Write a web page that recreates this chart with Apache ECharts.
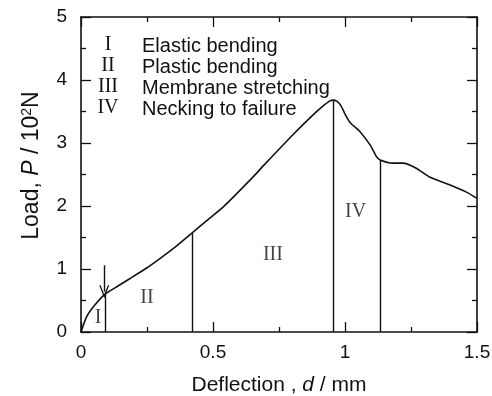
<!DOCTYPE html>
<html>
<head>
<meta charset="utf-8">
<script src="https://cdn.jsdelivr.net/npm/echarts@6/dist/echarts.min.js"></script>
<style>
  html, body { margin: 0; padding: 0; background: #fff; }
  #main { width: 492px; height: 396px; }
</style>
</head>
<body>
<div id="main"></div>
<script>
  // deflection (mm) and load (10^2 N)
  var deflection = [0, 0.021, 0.047, 0.091, 0.14, 0.186, 0.25, 0.30, 0.36, 0.42, 0.48, 0.54, 0.64, 0.70, 0.80, 0.88, 0.915, 0.94, 0.955, 0.97, 0.985, 1.0, 1.02, 1.057, 1.095, 1.12, 1.133, 1.18, 1.22, 1.27, 1.32, 1.40, 1.46, 1.50];
  var load = [0, 0.24, 0.40, 0.60, 0.73, 0.85, 1.02, 1.17, 1.36, 1.57, 1.78, 1.99, 2.41, 2.68, 3.12, 3.45, 3.58, 3.66, 3.68, 3.66, 3.59, 3.46, 3.32, 3.18, 2.97, 2.78, 2.73, 2.68, 2.68, 2.60, 2.46, 2.33, 2.22, 2.12];
  // stage boundaries [d, P]
  var boundaries = [[0.091, 0.60], [0.42, 1.57], [0.955, 3.68], [1.133, 2.73]];
  // stage labels [d, P, text]
  var stageLabels = [[0.065, 0.22, 'I'], [0.25, 0.54, 'II'], [0.727, 1.22, 'III'], [1.04, 1.91, 'IV']];
  var legendNums = ['I', 'II', 'III', 'IV'];
  var legendTexts = ['Elastic bending', 'Plastic bending', 'Membrane stretching', 'Necking to failure'];
  var arrowFrom = [0.088, 1.06];
  var arrowTo = [0.088, 0.64];
  var xTickLabels = { 0: '0', 0.5: '0.5', 1: '1', 1.5: '1.5' };

  var pts = deflection.map(function (d, i) { return [d, load[i]]; });
  var chart = echarts.init(document.getElementById('main'));

  // fresh objects for every axis (shared nested objects hid the top/right axes)
  function axisBase(extra) {
    var a = {
      axisLine: { show: true, onZero: false, lineStyle: { color: '#111', width: 1.6 } },
      axisTick: { show: true, inside: true, length: 10, lineStyle: { color: '#111', width: 1.3 } },
      minorTick: { show: true, splitNumber: 2, length: 5, lineStyle: { color: '#111', width: 1.3 } },
      splitLine: { show: false }
    };
    return Object.assign(a, extra);
  }

  var legendGraphics = [];
  legendNums.forEach(function (n, i) {
    var y = 45 + i * 21;
    legendGraphics.push({
      type: 'text', x: 108, y: y,
      style: { text: n, font: '20px "Liberation Serif"', fill: '#111', align: 'center', verticalAlign: 'middle' }
    });
    legendGraphics.push({
      type: 'text', x: 142, y: y + 1,
      style: { text: legendTexts[i], font: '20px "Liberation Sans"', fill: '#111', align: 'left', verticalAlign: 'middle' }
    });
  });

  var option = {
    animation: false,
    backgroundColor: '#fff',
    grid: { left: 81, right: 15, top: 17, bottom: 64, outerBoundsMode: 'none', containLabel: false },
    xAxis: [
      axisBase({
        type: 'value', min: 0, max: 1.5, interval: 0.5,
        name: '{n|Deflection , }{i|d}{n| / mm}', nameLocation: 'middle', nameGap: 43,
        nameTextStyle: { rich: {
          n: { fontFamily: 'Liberation Sans', fontSize: 21, color: '#111' },
          i: { fontFamily: 'Liberation Sans', fontSize: 21, fontStyle: 'italic', color: '#111' }
        } },
        axisLabel: { color: '#111', fontSize: 19, fontFamily: 'Liberation Sans', margin: 11,
          formatter: function (v) { return xTickLabels[v] !== undefined ? xTickLabels[v] : v; } }
      }),
      axisBase({
        type: 'value', min: 0, max: 1.5, interval: 0.5, position: 'top',
        axisLabel: { show: false }
      })
    ],
    yAxis: [
      axisBase({
        type: 'value', min: 0, max: 5, interval: 1,
        name: '{n|Load, }{i|P}{n| / 10}{s|2}{n|N}', nameLocation: 'middle', nameGap: 37,
        nameTextStyle: { padding: [0, 0, 0, 18], rich: {
          n: { fontFamily: 'Liberation Sans', fontSize: 23, color: '#111' },
          i: { fontFamily: 'Liberation Sans', fontSize: 23, fontStyle: 'italic', color: '#111' },
          s: { fontFamily: 'Liberation Sans', fontSize: 14, color: '#111', verticalAlign: 'top', padding: [0, 0, 10, 0] }
        } },
        axisLabel: { color: '#111', fontSize: 19, fontFamily: 'Liberation Sans', margin: 14 }
      }),
      axisBase({
        type: 'value', min: 0, max: 5, interval: 1, position: 'right',
        axisLabel: { show: false }
      })
    ],
    graphic: legendGraphics,
    series: [
      {
        type: 'line', data: pts, smooth: 0.2, symbol: 'none',
        lineStyle: { color: '#111', width: 1.6 },
        markLine: {
          silent: true, symbol: 'none', label: { show: false },
          lineStyle: { color: '#111', width: 1.4, type: 'solid' },
          data: boundaries.map(function (b) { return [{ coord: [b[0], 0] }, { coord: [b[0], b[1]] }]; })
            .concat([[{ coord: arrowFrom, symbol: 'none' },
              { coord: arrowTo, symbol: 'path://M5,0 L10,11 L8.6,11 L5,3.2 L1.4,11 L0,11 Z', symbolSize: [10, 13] }]])
        }
      },
      {
        type: 'scatter', symbolSize: 0, silent: true,
        data: stageLabels,
        label: {
          show: true, position: 'inside', color: '#111',
          fontFamily: 'Liberation Serif', fontSize: 20,
          formatter: function (p) { return p.data[2]; }
        }
      },
      { type: 'line', xAxisIndex: 1, yAxisIndex: 1, data: [], symbol: 'none', silent: true }
    ]
  };
  chart.setOption(option);
</script>
</body>
</html>
